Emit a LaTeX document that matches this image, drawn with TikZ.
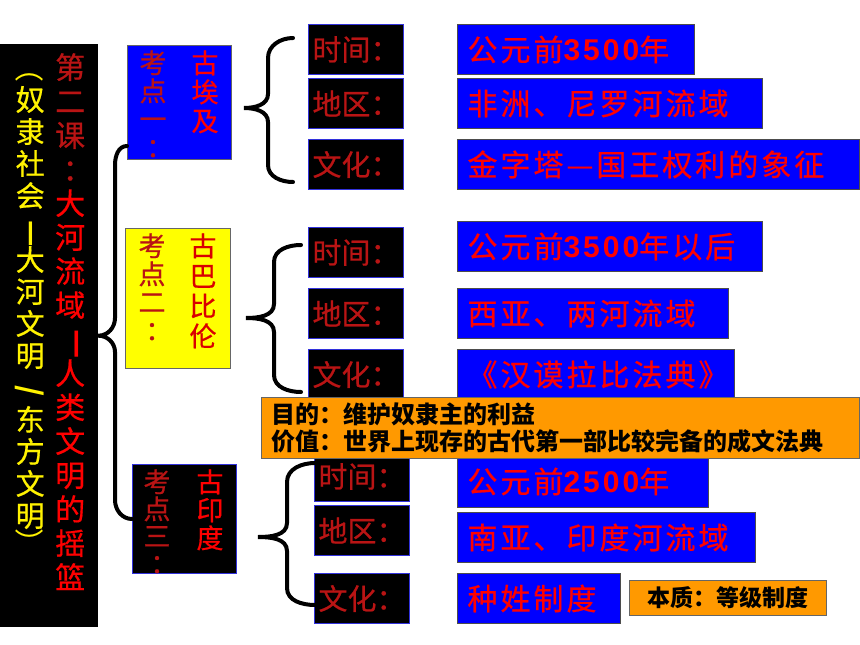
\documentclass[tikz,border=0pt]{standalone}
\usepackage{fontspec}
\setmainfont{Noto Sans CJK SC}
\newfontfamily\cjkwide{Noto Sans CJK SC}[LetterSpace=10, FakeBold=0.6]
\newfontfamily\cjkmid{Noto Sans CJK SC}[FakeBold=0.6]
\newfontfamily\arl{Liberation Sans}[LetterSpace=10]
\definecolor{factblue}{RGB}{0,0,255}
\definecolor{factred}{RGB}{255,0,0}
\definecolor{tagred}{RGB}{185,20,20}
\definecolor{notefill}{RGB}{255,153,0}
\definecolor{topicyellow}{RGB}{255,255,0}
\definecolor{tagedge}{RGB}{50,50,220}
\newcommand\vtab[1]{\parbox[t]{1em}{\centering#1}}
\newcommand\vcolon{\makebox[1em][l]{\kern.25em：}}
\newcommand\num[1]{{\arl\bfseries#1}}
\tikzset{
    panel/.style={fill=black, anchor=north west, inner xsep=0pt, inner ysep=9pt}, % 左侧课题
    vmark/.style={rotate=-90, inner sep=0pt}, % 竖排中的标点
    topic/.style={draw=black!60, line width=1pt, anchor=north west, inner xsep=0pt, inner ysep=5pt}, % 考点框
    tag/.style={draw=tagedge, fill=black, line width=1pt, text=tagred, anchor=north west, minimum width=95pt, minimum height=50pt, font=\cjkmid\fontsize{29}{30}\selectfont}, % 时间、地区、文化
    fact/.style={draw=black!70, fill=factblue, line width=1pt, text=factred, anchor=north west, minimum height=50pt, inner xsep=10pt, align=left, font=\cjkwide\fontsize{30}{32}\selectfont}, % 内容框
    note/.style={draw=black!60, fill=notefill, line width=1pt, anchor=north west, inner xsep=10pt, align=left, font=\bfseries\fontsize{24}{27}\selectfont}, % 补充说明
    brace line/.style={line width=4pt, line cap=round}
}

\begin{document}
\begin{tikzpicture}[x=1pt, y=-1pt]
    \useasboundingbox[fill=white] (0,0) rectangle (860,645);

    \node[panel, minimum width=98pt, minimum height=583pt, font=\cjkmid] (lesson) at (0,44) {\parbox[c][565pt][t]{98pt}{%
        \hspace*{15.5pt}{\color{yellow}\fontsize{29}{32}\selectfont\vtab{\mbox{}\\奴\\隶\\社\\会\\\mbox{}\\大\\河\\文\\明\\\mbox{}\\东\\方\\文\\明}}%
        \hspace{10.5pt}{\color{factred}\fontsize{30}{34}\selectfont\vtab{\textcolor{tagred}{第}\\\textcolor{tagred}{二}\\\textcolor{tagred}{课}\\\textcolor{tagred}{\vcolon}\\大\\河\\流\\域\\\mbox{}\\人\\类\\文\\明\\的\\摇\\篮}}}};
    % 竖排的括号、破折号、斜线
    \begin{scope}[font=\fontsize{29}{32}\selectfont, text=yellow]
        \node[vmark] (lp) at (30,68) {（};
        \node[vmark, font=\bfseries\fontsize{29}{32}\selectfont] (dash1) at (28,234) {—};
        \node[vmark, font=\bfseries\fontsize{29}{32}\selectfont] (slash) at (30,391) {/};
        \node[vmark] (rp) at (30,543) {）};
    \end{scope}
    \node[vmark, text=factred, font=\bfseries\fontsize{32}{34}\selectfont] (dash2) at (73,344) {—};

    \begin{scope}[font=\cjkmid]
    \node[topic, fill=factblue, minimum width=104pt, minimum height=114pt] (egypt) at (127,45) {\parbox[c][104pt][t]{104pt}{\fontsize{27}{28}\selectfont
        \hspace*{12pt}\textcolor{tagred}{\vtab{考\\点\\一\\\vcolon}}\hspace{25pt}\textcolor{factred}{\fontsize{27}{29}\selectfont\vtab{古\\埃\\及}}}};
    \node[topic, fill=topicyellow, minimum width=105pt, minimum height=140pt] (babylon) at (125,228) {\parbox[c][130pt][t]{105pt}{\fontsize{27}{28}\selectfont
        \hspace*{13pt}\textcolor{tagred}{\vtab{考\\点\\二\\\vcolon}}\hspace{24pt}\textcolor{red!85!black}{\fontsize{27}{30}\selectfont\vtab{古\\巴\\比\\伦}}}};
    \node[topic, draw=tagedge, fill=black, minimum width=104pt, minimum height=109pt] (india) at (132,464) {\parbox[c][99pt][t]{104pt}{\fontsize{27}{27}\selectfont
        \hspace*{11pt}\textcolor{tagred}{\vtab{考\\点\\三\\\vcolon}}\hspace{26pt}\textcolor{factred}{\fontsize{27}{28}\selectfont\vtab{古\\印\\度}}}};
    \end{scope}

    \node[tag] (time1) at (308,24) {时间：};
    \node[tag] (area1) at (308,78) {地区：};
    \node[tag] (culture1) at (308,139) {文化：};
    \node[tag] (time2) at (308,227) {时间：};
    \node[tag] (area2) at (308,288) {地区：};
    \node[tag] (culture2) at (308,349) {文化：};
    \node[tag] (time3) at (314,451) {时间：};
    \node[tag] (area3) at (314,505) {地区：};
    \node[tag] (culture3) at (314,573) {文化：};

    \node[fact, text width=217pt] (date1) at (457,24) {公元前\num{3500}年};
    \node[fact, text width=285pt] (place1) at (457,78) {非洲、尼罗河流域};
    \node[fact, text width=382pt] (art1) at (457,139) {金字塔—国王权利的象征};
    \node[fact, text width=285pt] (date2) at (457,221) {公元前\num{3500}年以后};
    \node[fact, text width=251pt] (place2) at (457,288) {西亚、两河流域};
    \node[fact, text width=257pt] (art2) at (457,349) {《汉谟拉比法典》};
    \node[fact, text width=231pt, minimum height=52pt] (date3) at (457,455) {公元前\num{2500}年};
    \node[fact, text width=278pt] (place3) at (457,512) {南亚、印度河流域};
    \node[fact, text width=143pt] (art3) at (457,573) {种姓制度};

    % 大括号
    \coordinate (tip1) at (244,108); \coordinate (top1) at (293,38); \coordinate (bot1) at (293,182);
    \coordinate (tip2) at (246,318); \coordinate (top2) at (301,245); \coordinate (bot2) at (301,392);
    \coordinate (tip3) at (258,537); \coordinate (top3) at (315,463); \coordinate (bot3) at (315,605);
    \draw[brace line] ([yshift=14pt]egypt.south west) to[out=180,in=90] (115,165) -- (115,318) to[out=-90,in=0] (lesson.east) to[out=0,in=90] (115,352) -- (115,500) to[out=-90,in=180] (india.west);
    \draw[brace line] (top1) to[out=180,in=90] (268,58) -- (268,94) to[out=-90,in=0] (tip1) to[out=0,in=90] (268,122) -- (268,165) to[out=-90,in=180] (bot1);
    \draw[brace line] (top2) to[out=180,in=90] (274,262) -- (274,304) to[out=-90,in=0] (tip2) to[out=0,in=90] (274,332) -- (274,375) to[out=-90,in=180] (bot2);
    \draw[brace line] (top3) to[out=180,in=90] (287,482) -- (287,523) to[out=-90,in=0] (tip3) to[out=0,in=90] (287,551) -- (287,588) to[out=-90,in=180] (bot3);

    \node[note, minimum width=598pt, minimum height=61pt, text width=578pt] (code) at (261,397) {目的：维护奴隶主的利益\\价值：世界上现存的古代第一部比较完备的成文法典};
    \node[note, minimum width=197pt, minimum height=35pt, inner xsep=8pt, font=\bfseries\fontsize{23}{25}\selectfont] (caste) at (629,580) {本质：等级制度};
\end{tikzpicture}
\end{document}
